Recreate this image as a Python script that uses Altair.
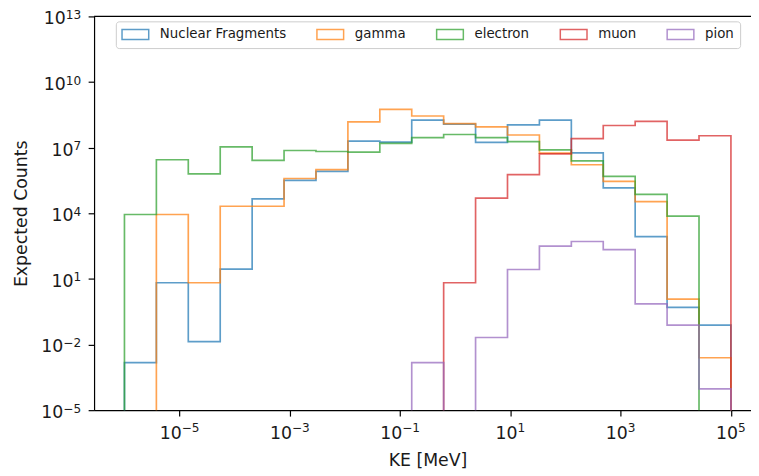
import altair as alt
import numpy as np
import pandas as pd

# ---- data -------------------------------------------------------------
BIN_EDGES = list(np.logspace(-6, 5, 20))  # 19 log-spaced bins, 1e-6 .. 1e5 MeV

SERIES = ["Nuclear Fragments", "gamma", "electron", "muon", "pion"]
COLORS = ["#1f77b4", "#ff7f0e", "#2ca02c", "#d62728", "#9467bd"]

nuclear = [1.5e-3, 6.7, 1.35e-2, 28, 4.6e4, 3.2e5, 8.3e5, 2.0e7, 1.8e7, 1.8e8,
           1.2e8, 1.75e7, 1.1e8, 1.8e8, 5.8e6, 1.46e5, 865, 0.5, 0.077]
gamma = [0, 8.8e3, 6.7, 2.1e4, 2.1e4, 3.9e5, 9.9e5, 1.5e8, 5.6e8, 2.8e8,
         1.26e8, 9.0e7, 3.8e7, 5.6e6, 1.66e6, 2.9e5, 3.4e4, 1.19, 2.5e-3]
electron = [8.8e3, 2.8e6, 6.3e5, 1.08e7, 2.6e6, 7.4e6, 6.7e6, 6.2e6, 1.58e7, 2.9e7,
            4.0e7, 2.9e7, 1.9e7, 7.9e6, 2.5e6, 4.9e5, 7.3e4, 7.4e3, 0]
muon = [0, 0, 0, 0, 0, 0, 0, 0, 0, 0,
        6.7, 4.9e4, 5.9e5, 5.2e6, 2.6e7, 1.03e8, 1.6e8, 2.2e7, 3.5e7]
pion = [0, 0, 0, 0, 0, 0, 0, 0, 0, 1.5e-3,
        0, 0.021, 27, 315, 514, 217, 0.73, 0.077, 9.5e-5]

COUNTS = [nuclear, gamma, electron, muon, pion]

X_TICK_EXP = [-5, -3, -1, 1, 3, 5]
Y_TICK_EXP = [-5, -2, 1, 4, 7, 10, 13]

FLOOR = 1e-9  # empty bins are drawn below the axis and clipped

# ---- build step outlines (like matplotlib histtype='step') ------------
rows = []
for name, vals in zip(SERIES, COUNTS):
    pts = [(BIN_EDGES[0], FLOOR)]
    for k, v in enumerate(vals):
        pts.append((BIN_EDGES[k], v if v > 0 else FLOOR))
    last = vals[-1] if vals[-1] > 0 else FLOOR
    pts.append((BIN_EDGES[-1], last))
    pts.append((BIN_EDGES[-1], FLOOR))
    for i, (x, y) in enumerate(pts):
        rows.append({"series": name, "KE": x, "counts": y, "i": i})
df = pd.DataFrame(rows)


def tick_frame(exps):
    return pd.DataFrame({
        "v": [10.0 ** e for e in exps],
        "base": ["10"] * len(exps),
        "exp": [str(e).replace("-", "\u2212") for e in exps],
    })


xt = tick_frame(X_TICK_EXP)
yt = tick_frame(Y_TICK_EXP)

FONT = "DejaVu Sans"
TXT = "#1a1a1a"
W, H = 664, 398
BFS = 17.5            # base font size of tick labels
EFS = 12.25           # exponent font size (0.7x)
BW = 1.272 * BFS      # width of "10"
# width of the exponent string, in px
EW = (f"(({EFS})*((indexof(datum.exp,'\u2212')>=0 ? 0.838 : 0) + "
      f"(length(datum.exp) - (indexof(datum.exp,'\u2212')>=0 ? 1 : 0))*0.636))")

xscale = alt.Scale(type="log", domain=[10 ** -6.551, 10 ** 5.364], nice=False)
yscale = alt.Scale(type="log", domain=[1e-5, 1e13], nice=False)

line = alt.Chart(df).mark_line(
    interpolate="step-after", clip=True, strokeWidth=1.7, strokeOpacity=0.72
).encode(
    x=alt.X("KE:Q", scale=xscale,
            axis=alt.Axis(values=[10.0 ** e for e in X_TICK_EXP], labels=False,
                          title="KE [MeV]", grid=False,
                          tickSize=6, tickColor="black", tickWidth=1.2,
                          domainColor="black", domainWidth=1.2,
                          titleFont=FONT, titleFontSize=17.5, titleFontWeight="normal",
                          titleColor=TXT, titleX=337, titleY=56,
                          titleAlign="center", titleBaseline="alphabetic")),
    y=alt.Y("counts:Q", scale=yscale,
            axis=alt.Axis(values=[10.0 ** e for e in Y_TICK_EXP], labels=False,
                          title="Expected Counts", grid=False,
                          tickSize=6, tickColor="black", tickWidth=1.2,
                          domainColor="black", domainWidth=1.2,
                          titleFont=FONT, titleFontSize=17.5, titleFontWeight="normal",
                          titleColor=TXT, titleX=-68, titleY=H / 2,
                          titleAlign="center", titleBaseline="alphabetic", titleAngle=270)),
    color=alt.Color("series:N",
                    scale=alt.Scale(domain=SERIES, range=COLORS),
                    sort=SERIES,
                    legend=alt.Legend(
                        title=None, orient="none", legendX=22, legendY=5,
                        direction="horizontal", columns=5, columnPadding=27,
                        symbolType="M-1,-0.75H3V0.75H-1Z", symbolSize=182,
                        symbolStrokeWidth=1.5, symbolFillColor="transparent",
                        symbolOpacity=0.72, labelOffset=24,
                        labelFont=FONT, labelFontSize=13.5, labelColor=TXT,
                        padding=5.5, fillColor="rgba(255,255,255,0.8)",
                        strokeColor="#cccccc", cornerRadius=3)),
    order="i:Q",
)

# x tick labels: "10" + raised exponent, centred on the tick
xdx = {"expr": f"({BW} - {EW})/2"}
x_base = alt.Chart(xt).mark_text(
    align="right", baseline="alphabetic", font=FONT, fontSize=BFS, color=TXT, dx=xdx
).encode(x=alt.X("v:Q", scale=xscale, axis=None), y=alt.value(H + 29), text="base:N")
x_exp = alt.Chart(xt).mark_text(
    align="left", baseline="alphabetic", font=FONT, fontSize=EFS, color=TXT, dx=xdx, dy=-7
).encode(x=alt.X("v:Q", scale=xscale, axis=None), y=alt.value(H + 29), text="exp:N")

# y tick labels: right aligned next to the ticks
y_base = alt.Chart(yt).mark_text(
    align="right", baseline="alphabetic", font=FONT, fontSize=BFS, color=TXT,
    dx={"expr": f"-{EW}"}, dy=8
).encode(y=alt.Y("v:Q", scale=yscale, axis=None), x=alt.value(-13), text="base:N")
y_exp = alt.Chart(yt).mark_text(
    align="right", baseline="alphabetic", font=FONT, fontSize=EFS, color=TXT, dy=2.5
).encode(y=alt.Y("v:Q", scale=yscale, axis=None), x=alt.value(-13), text="exp:N")

top = alt.Chart(pd.DataFrame({"a": [0]})).mark_rule(color="black", strokeWidth=1.2).encode(
    x=alt.value(0), x2=alt.value(W), y=alt.value(0)
)

chart = alt.layer(line, top, x_base, x_exp, y_base, y_exp).resolve_axis(
    x="independent", y="independent"
).properties(
    width=W, height=H,
    autosize=alt.AutoSizeParams(type="none"),
    padding={"left": 87, "top": 6, "right": 0, "bottom": 61},
).configure_view(stroke=None)

chart.save("out.html", embed_options={"renderer": "svg", "actions": False})
